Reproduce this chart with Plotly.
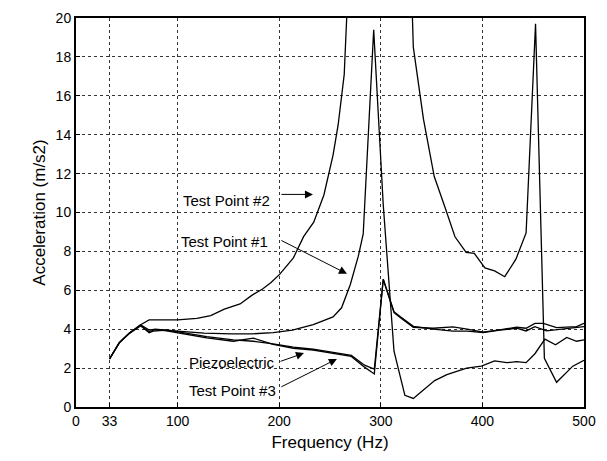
import plotly.graph_objects as go

# ---- data ----
tp2_f = [33, 42.5, 52.7, 63.6, 72, 100, 119, 132.6, 146, 161.5, 173, 183.6, 192, 200.6,
         214, 224, 234, 244, 253, 258, 264, 268, 300, 330, 332, 342, 352.6, 363, 373,
         384, 392, 402.5, 412, 422, 433, 443, 452.3, 461, 473, 489, 500]
tp2_a = [2.47, 3.3, 3.8, 4.23, 4.48, 4.48, 4.56, 4.7, 5.03, 5.3, 5.74, 6.07, 6.4, 6.83,
         7.67, 8.76, 9.5, 10.9, 12.95, 14.5, 17.1, 22, 60, 22, 18.5, 14.8, 11.85, 10.3, 8.75,
         7.95, 7.9, 7.15, 7.0, 6.7, 7.6, 8.95, 19.7, 2.5, 1.27, 2.1, 2.4]

tp1_f = [33, 42.5, 52.7, 63.6, 72, 78, 100, 126, 153, 173, 194, 213, 233.5, 253, 261.4,
         270, 277.8, 282.7, 293, 302.4, 313, 323.7, 332, 343.5, 353, 365, 374.6, 384.5,
         399, 412, 424, 433.6, 443, 451.7, 461.5, 472, 483, 492.7, 500]
tp1_a = [2.47, 3.3, 3.8, 4.23, 3.95, 4.0, 3.9, 3.8, 3.76, 3.76, 3.82, 3.95, 4.24, 4.63, 5.1,
         6.3, 7.74, 8.9, 19.4, 10.4, 2.87, 0.6, 0.44, 0.94, 1.36, 1.66, 1.83, 2.0,
         2.1, 2.37, 2.28, 2.33, 2.28, 2.74, 3.49, 3.2, 3.58, 3.38, 3.45]

pz_f = [33, 42.5, 52.7, 63.6, 72, 76, 89, 109, 128.6, 154.8, 174.5, 194, 214, 233.5, 256.5,
        271, 284, 293.6, 302.4, 313, 319, 332, 351.6, 371, 385, 400.8, 417, 433.6, 443,
        451.7, 460, 473, 492.7, 500]
pz_a = [2.47, 3.3, 3.8, 4.18, 3.82, 3.9, 3.96, 3.78, 3.62, 3.45, 3.38, 3.25, 3.08, 2.97, 2.78,
        2.65, 2.15, 1.95, 6.57, 4.85, 4.6, 4.1, 4.05, 4.12, 4.0, 3.85, 3.97, 4.1, 4.05,
        4.3, 4.3, 4.08, 4.13, 4.3]

tp3_f = [33, 42.5, 52.7, 63.6, 72, 78, 89, 109, 128.6, 154.8, 174.5, 194, 214, 233.5, 256.5,
         271, 284, 293.6, 302.4, 313, 319, 332, 351.6, 371, 385, 400.8, 417, 433.6, 443,
         451.7, 463, 483, 500]
tp3_a = [2.47, 3.3, 3.8, 4.18, 3.88, 3.98, 3.92, 3.72, 3.55, 3.38, 3.54, 3.22, 3.02, 2.93, 2.72,
         2.6, 2.05, 1.7, 6.57, 4.9, 4.65, 4.15, 4.0, 3.9, 3.9, 3.83, 3.95, 4.05, 3.91,
         4.13, 3.91, 4.02, 4.13]

x_ticks = [0, 33, 100, 200, 300, 400, 500]
y_ticks = [0, 2, 4, 6, 8, 10, 12, 14, 16, 18, 20]

# label: (text x, text y, arrow tail x, tail y, arrow head x, head y)
labels = {
    "Test Point #2": (193, 10.6, 200.7, 10.93, 233.2, 10.93),
    "Test Point #1": (191, 8.5, 200.7, 8.6, 266.7, 6.85),
    "Piezoelectric": (198, 2.3, 199.8, 2.32, 224.4, 2.77),
    "Test Point #3": (199, 0.86, 200.7, 1.0, 256.8, 2.47),
}

FONT = "Liberation Sans, Arial, sans-serif"

fig = go.Figure()
for f, a, name in [(tp2_f, tp2_a, "Test Point #2"), (tp1_f, tp1_a, "Test Point #1"),
                   (pz_f, pz_a, "Piezoelectric"), (tp3_f, tp3_a, "Test Point #3")]:
    fig.add_trace(go.Scatter(x=f, y=a, mode="lines", name=name,
                             line=dict(color="black", width=1.3), showlegend=False))

for text, (tx, ty, ax0, ay0, hx, hy) in labels.items():
    fig.add_annotation(x=tx, y=ty, text=text, showarrow=False, xanchor="right",
                       yanchor="middle", font=dict(size=15, color="black", family=FONT))
    fig.add_annotation(x=hx, y=hy, ax=ax0, ay=ay0, axref="x", ayref="y", xref="x", yref="y",
                       text="", showarrow=True, arrowhead=2, arrowsize=1.6, arrowwidth=1,
                       arrowcolor="black")

axis_common = dict(showline=True, linecolor="black", linewidth=2, mirror=True,
                   showgrid=True, gridcolor="#333", griddash="dot", gridwidth=1,
                   ticks="inside", ticklen=4, tickcolor="black", zeroline=False,
                   tickfont=dict(size=14, color="black", family=FONT))

fig.update_xaxes(range=[0, 500], tickvals=x_ticks, ticktext=[str(v) for v in x_ticks],
                 title=dict(text="Frequency (Hz)", font=dict(size=17, color="black", family=FONT),
                            standoff=8),
                 **axis_common)
fig.update_yaxes(range=[0, 20], tickvals=y_ticks, ticktext=[str(v) for v in y_ticks],
                 title=dict(text="Acceleration (m/s2)", font=dict(size=17, color="black", family=FONT),
                            standoff=6),
                 **axis_common)

fig.update_layout(width=607, height=461, autosize=False,
                  margin=dict(l=76, r=23, t=10, b=54),
                  plot_bgcolor="white", paper_bgcolor="white",
                  font=dict(family=FONT, color="black"))

fig.write_html("out.html", config={"displayModeBar": False},
               post_script="document.body.style.margin='0';document.body.style.overflow='hidden';")
